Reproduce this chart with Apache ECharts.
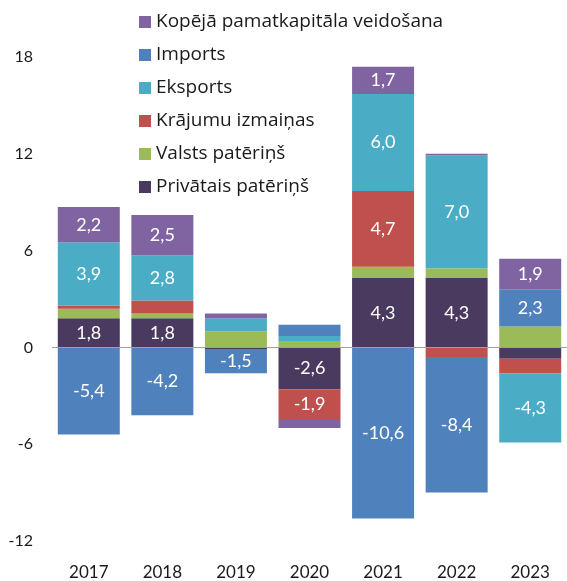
<!DOCTYPE html>
<html>
<head>
<meta charset="utf-8">
<script src="https://cdn.jsdelivr.net/npm/echarts@6/dist/echarts.min.js"></script>
<style>
    html, body { margin: 0; padding: 0; background: #fff; }
    #chart { width: 567px; height: 581px; }
</style>
</head>
<body>
<div id="chart"></div>
<script>
var years = ['2017', '2018', '2019', '2020', '2021', '2022', '2023'];
var yTicks = [-12, -6, 0, 6, 12, 18];

// stacked from the bottom up, in this order
var privatais = [1.8, 1.8, -0.1, -2.6, 4.3, 4.3, -0.7];
var valsts = [0.6, 0.3, 1.0, 0.4, 0.7, 0.6, 1.3];
var krajumi = [0.2, 0.8, 0, -1.9, 4.7, -0.6, -0.9];
var eksports = [3.9, 2.8, 0.8, 0.3, 6.0, 7.0, -4.3];
var imports = [-5.4, -4.2, -1.5, 0.7, -10.6, -8.4, 2.3];
var kopeja = [2.2, 2.5, 0.3, -0.5, 1.7, 0.1, 1.9];

var names = [
    'Privātais patēriņš',
    'Valsts patēriņš',
    'Krājumu izmaiņas',
    'Eksports',
    'Imports',
    'Kopējā pamatkapitāla veidošana'
];
var colors = ['#4b3a60', '#9bbb59', '#c0504d', '#4bacc6', '#4f81bd', '#8064a2'];
var values = [privatais, valsts, krajumi, eksports, imports, kopeja];

var FONT = 'Lato';

var fmtLabel = function(p) {
    if (Math.abs(p.value) < 1.5) return '';
    return p.value.toFixed(1).replace('.', ',');
};

var series = [];
for (var i = 0; i < names.length; i++) {
    series.push({
        name: names[i],
        type: 'bar',
        stack: 'pieaugums',
        data: values[i],
        barWidth: 62,
        itemStyle: { color: colors[i] },
        label: {
            show: true,
            position: 'inside',
            color: '#fff',
            fontFamily: FONT,
            fontSize: 18,
            formatter: fmtLabel
        },
        emphasis: { disabled: true }
    });
}
// zero line over the bars
series[0].markLine = {
    silent: true,
    symbol: 'none',
    label: { show: false },
    lineStyle: { color: '#a0a0a0', width: 1, type: 'solid' },
    data: [{ yAxis: 0 }],
    z: 10
};

var option = {
    animation: false,
    backgroundColor: '#fff',
    textStyle: { fontFamily: FONT },
    legend: {
        orient: 'vertical',
        left: 134,
        top: 7,
        itemWidth: 12,
        itemHeight: 12,
        itemGap: 13,
        icon: 'rect',
        data: names.slice().reverse(),
        textStyle: { fontFamily: 'Open Sans', fontSize: 19, color: '#1a1a1a', lineHeight: 20 },
        selectedMode: false
    },
    grid: { left: 52, right: -7, top: 57, bottom: 36, containLabel: false },
    xAxis: {
        type: 'category',
        data: years,
        axisLine: { show: false },
        axisTick: { show: false },
        axisLabel: { color: '#1a1a1a', fontSize: 17, fontFamily: FONT, margin: 23 }
    },
    yAxis: {
        type: 'value',
        min: yTicks[0],
        max: yTicks[yTicks.length - 1],
        interval: 6,
        splitLine: { show: false },
        axisLine: { show: false },
        axisTick: { show: false },
        axisLabel: { color: '#1a1a1a', fontSize: 16, fontFamily: FONT, margin: 19 }
    },
    series: series
};

var myChart = echarts.init(document.getElementById('chart'), null, { renderer: 'canvas' });
myChart.setOption(option);
</script>
</body>
</html>
